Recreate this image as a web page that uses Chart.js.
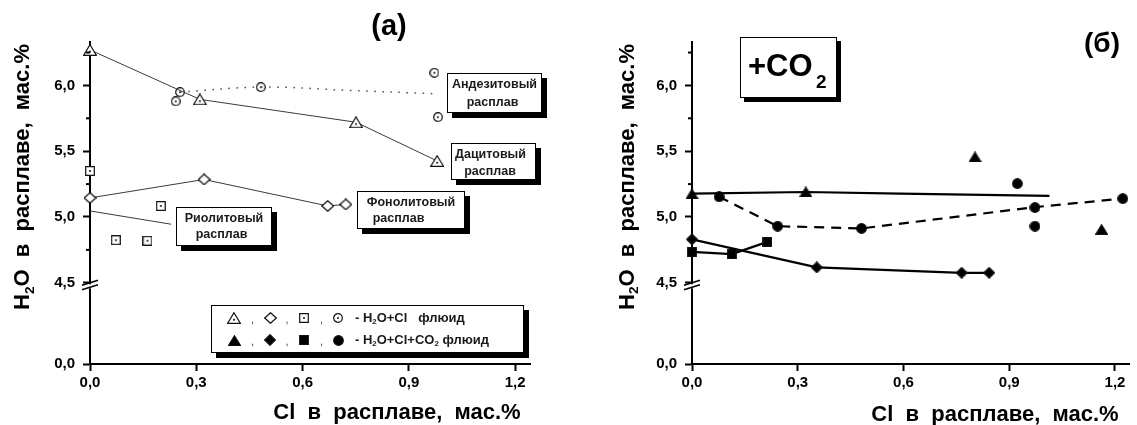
<!DOCTYPE html>
<html>
<head>
<meta charset="utf-8">
<script src="https://cdn.jsdelivr.net/npm/chart.js@4.4.1/dist/chart.umd.min.js"></script>
<style>
  html, body { margin: 0; padding: 0; background: #fff; }
  #wrap { position: relative; width: 1137px; height: 425px; overflow: hidden; }
  canvas { position: absolute; top: 0; }
  #chartA { left: 0; }
  #chartB { left: 568px; }
</style>
</head>
<body>
<div id="wrap">
  <canvas id="chartA" width="568" height="425"></canvas>
  <canvas id="chartB" width="569" height="425"></canvas>
</div>
<script>
// (a) H2O+Cl fluid
const daciteCl = [0, 0.31, 0.751, 0.98];
const daciteH2O = [6.27, 5.894, 5.72, 5.426];
const andesiteCl = [0.242, 0.254, 0.482, 0.972, 0.982];
const andesiteH2O = [5.879, 5.949, 5.987, 6.096, 5.759];
const andesiteTrendCl = [0.254, 0.482, 0.734, 0.969];
const andesiteTrendH2O = [5.949, 5.987, 5.962, 5.937];
const phonoliteCl = [0, 0.322, 0.671, 0.722];
const phonoliteH2O = [5.145, 5.285, 5.084, 5.095];
const rhyoliteCl = [0, 0.073, 0.162, 0.2];
const rhyoliteH2O = [5.35, 4.824, 4.819, 5.084];
const rhyoliteTrendCl = [0, 0.229];
const rhyoliteTrendH2O = [5.046, 4.945];

// (б) H2O+Cl+CO2 fluid
const daciteCO2Cl = [0, 0.323, 0.803, 1.162];
const daciteCO2H2O = [5.175, 5.19, 5.456, 4.905];
const daciteCO2TrendCl = [0, 0.323, 0.59, 1.014];
const daciteCO2TrendH2O = [5.178, 5.19, 5.178, 5.16];
const andesiteCO2Cl = [0.077, 0.243, 0.481, 0.923, 0.973, 0.973, 1.222];
const andesiteCO2H2O = [5.153, 4.93, 4.913, 5.254, 5.072, 4.93, 5.14];
const andesiteCO2TrendCl = [0.077, 0.243, 0.481, 0.973, 1.222];
const andesiteCO2TrendH2O = [5.153, 4.93, 4.913, 5.075, 5.14];
const phonoliteCO2Cl = [0, 0.354, 0.765, 0.843];
const phonoliteCO2H2O = [4.83, 4.617, 4.576, 4.576];
const rhyoliteCO2Cl = [0, 0.113, 0.214];
const rhyoliteCO2H2O = [4.735, 4.718, 4.811];

// ticks
const xTicks = [0, 0.3, 0.6, 0.9, 1.2];
const yUpperTicks = [4.5, 4.75, 5, 5.25, 5.5, 5.75, 6, 6.25];
const yMajorTicks = [4.5, 5, 5.5, 6];
const yLowerTicks = [0];

const FONT = '"Liberation Sans", Arial, sans-serif';
Chart.defaults.font.family = FONT;

function fmt(v) { return v.toFixed(1).replace('.', ','); }
function pts(xs, ys) { return xs.map((x, i) => ({ x, y: ys[i] })); }

function makeMarker(shape, filled, w, h, dot) {
  const c = document.createElement('canvas');
  c.width = w; c.height = h;
  const g = c.getContext('2d');
  g.lineWidth = 1.2;
  g.strokeStyle = '#111';
  g.fillStyle = filled ? '#000' : '#fff';
  g.beginPath();
  if (shape === 'tri') {
    g.moveTo(w / 2, 0.7); g.lineTo(w - 0.7, h - 0.7); g.lineTo(0.7, h - 0.7); g.closePath();
  } else if (shape === 'circle') {
    g.arc(w / 2, h / 2, w / 2 - 0.7, 0, Math.PI * 2);
  } else if (shape === 'square') {
    g.rect(0.7, 0.7, w - 1.4, h - 1.4);
  } else {
    g.moveTo(w / 2, 0.7); g.lineTo(w - 0.7, h / 2); g.lineTo(w / 2, h - 0.7); g.lineTo(0.7, h / 2); g.closePath();
  }
  g.fill(); g.stroke();
  if (dot) {
    g.fillStyle = '#111';
    g.beginPath();
    g.arc(w / 2, shape === 'tri' ? h * 0.64 : h / 2, 1, 0, Math.PI * 2);
    g.fill();
  }
  return c;
}

const mk = {
  triOpen: makeMarker('tri', false, 14, 12, true),
  diaOpen: makeMarker('diamond', false, 13, 12, false),
  sqOpen: makeMarker('square', false, 10, 10, true),
  circOpen: makeMarker('circle', false, 10, 10, true),
  triFill: makeMarker('tri', true, 13, 11, false),
  diaFill: makeMarker('diamond', true, 12, 12, false),
  sqFill: makeMarker('square', true, 10, 10, false),
  circFill: makeMarker('circle', true, 11, 11, false),
};

function makeScales(yWidth) {
  const tickFont = { family: FONT, size: 15, weight: 'bold' };
  const grid = { drawOnChartArea: false, drawTicks: true, tickLength: 7, tickWidth: 2, tickColor: '#000' };
  const border = { display: true, width: 2, color: '#000' };
  const yTicks = { font: tickFont, color: '#000', padding: 8, autoSkip: false };
  return {
    x: {
      type: 'linear', min: 0, max: 1.242, position: 'bottom', grid, border,
      ticks: { font: tickFont, color: '#000', padding: 3, autoSkip: false, maxRotation: 0, callback: (v) => fmt(v) },
      afterBuildTicks: (s) => { s.ticks = xTicks.map((v) => ({ value: v })); },
      afterFit: (s) => { s.height = 61; },
    },
    yLow: {
      type: 'linear', min: 0, max: 4.5, position: 'left', stack: 'h', stackWeight: 81.3, grid, border,
      ticks: { ...yTicks, callback: (v) => fmt(v) },
      afterBuildTicks: (s) => { s.ticks = yLowerTicks.map((v) => ({ value: v })); },
      afterFit: (s) => { s.width = yWidth; },
    },
    y: {
      type: 'linear', min: 4.5, max: 6.33, position: 'left', stack: 'h', stackWeight: 241, border,
      grid: { ...grid, tickColor: (c) => (yMajorTicks.includes(c.tick.value) ? '#000' : 'rgba(0,0,0,0)') },
      ticks: { ...yTicks, callback: (v) => (yMajorTicks.includes(v) ? fmt(v) : '') },
      afterBuildTicks: (s) => { s.ticks = yUpperTicks.map((v) => ({ value: v })); },
      afterFit: (s) => { s.width = yWidth; },
    },
  };
}

function drawRich(ctx, parts, x, y, size, align) {
  let w = 0;
  parts.forEach((p) => { ctx.font = `bold ${size * (p.k || 1)}px ${FONT}`; w += ctx.measureText(p.t).width; });
  let cx = align === 'center' ? x - w / 2 : x;
  parts.forEach((p) => {
    ctx.font = `bold ${size * (p.k || 1)}px ${FONT}`;
    ctx.fillText(p.t, cx, y + (p.dy || 0));
    cx += ctx.measureText(p.t).width;
  });
}

function shadowBox(ctx, x, y, w, h, off) {
  ctx.fillStyle = '#000';
  ctx.fillRect(x + off, y + off, w, h);
  ctx.fillStyle = '#fff';
  ctx.fillRect(x, y, w, h);
  ctx.strokeStyle = '#000';
  ctx.lineWidth = 1;
  ctx.strokeRect(x + 0.5, y + 0.5, w - 1, h - 1);
}

function drawFrameExtras(chart, ctx, titleX, titleY, yTitleX) {
  const area = chart.chartArea;
  const yUp = chart.scales.y;
  // minor ticks
  ctx.strokeStyle = '#000';
  ctx.lineWidth = 2;
  yUpperTicks.filter((v) => !yMajorTicks.includes(v)).forEach((v) => {
    const py = yUp.getPixelForValue(v);
    ctx.beginPath(); ctx.moveTo(area.left - 4, py); ctx.lineTo(area.left, py); ctx.stroke();
  });
  // axis break
  const yb = yUp.bottom;
  ctx.fillStyle = '#fff';
  ctx.fillRect(area.left - 2, yb + 1.5, 4, 4);
  ctx.lineWidth = 1.6;
  ctx.beginPath();
  ctx.moveTo(area.left - 8, yb + 2.5); ctx.lineTo(area.left + 8, yb - 2.5);
  ctx.moveTo(area.left - 8, yb + 7); ctx.lineTo(area.left + 8, yb + 2);
  ctx.stroke();
  // axis titles
  ctx.fillStyle = '#000';
  ctx.textBaseline = 'middle';
  drawRich(ctx, [{ t: 'Cl  в  расплаве,  мас.%' }], titleX, titleY, 22, 'center');
  ctx.save();
  ctx.translate(yTitleX, 177);
  ctx.rotate(-Math.PI / 2);
  drawRich(ctx, [{ t: 'H' }, { t: '2', k: 0.62, dy: 7 }, { t: 'O  в  расплаве,  мас.%' }], 0, 0, 22, 'center');
  ctx.restore();
}

const labelBoxesA = [
  { x: 447, y: 73, w: 95, h: 40, lines: [['Андезитовый', 494.5, 85], ['расплав', 492.5, 103]] },
  { x: 451, y: 143, w: 85, h: 37, lines: [['Дацитовый', 490.5, 155], ['расплав', 490, 172]] },
  { x: 357, y: 191, w: 108, h: 38, lines: [['Фонолитовый', 411, 202.5], ['расплав', 398.5, 219]] },
  { x: 176, y: 207, w: 96, h: 39, lines: [['Риолитовый', 224, 219], ['расплав', 221.5, 235]] },
];

const annotA = {
  id: 'annotA',
  afterDraw(chart) {
    const ctx = chart.ctx;
    ctx.save();
    drawFrameExtras(chart, ctx, 397, 413, 23);
    ctx.textAlign = 'center';
    ctx.fillStyle = '#000';
    ctx.font = `bold 29px ${FONT}`;
    ctx.fillText('(a)', 389, 27);
    ctx.textAlign = 'left';
    labelBoxesA.forEach((b) => {
      shadowBox(ctx, b.x, b.y, b.w, b.h, 5);
      ctx.fillStyle = '#1a1a1a';
      ctx.textAlign = 'center';
      ctx.font = `bold 12.5px ${FONT}`;
      b.lines.forEach(([t, cx, cy]) => ctx.fillText(t, cx, cy));
    });
    // legend
    shadowBox(ctx, 211, 305, 313, 48, 5);
    const symX = [234, 270, 304, 338];
    const rows = [
      { y: 318, syms: [mk.triOpen, mk.diaOpen, mk.sqOpen, mk.circOpen],
        text: [{ t: '- H' }, { t: '2', k: 0.6, dy: 4 }, { t: 'O+Cl   флюид' }] },
      { y: 340, syms: [mk.triFill, mk.diaFill, mk.sqFill, mk.circFill],
        text: [{ t: '- H' }, { t: '2', k: 0.6, dy: 4 }, { t: 'O+Cl+CO' }, { t: '2', k: 0.6, dy: 4 }, { t: ' флюид' }] },
    ];
    rows.forEach((r) => {
      r.syms.forEach((s, i) => ctx.drawImage(s, Math.round(symX[i] - s.width / 2), Math.round(r.y - s.height / 2)));
      ctx.fillStyle = '#444';
      ctx.textAlign = 'center';
      ctx.font = `11px ${FONT}`;
      [252.5, 287, 321.5].forEach((cx) => ctx.fillText(',', cx, r.y + 2));
      ctx.textAlign = 'left';
      ctx.fillStyle = '#1a1a1a';
      drawRich(ctx, r.text, 355, r.y, 13, 'left');
    });
    ctx.restore();
  },
};

const annotB = {
  id: 'annotB',
  afterDraw(chart) {
    const ctx = chart.ctx;
    ctx.save();
    drawFrameExtras(chart, ctx, 427, 415, 59.5);
    ctx.textAlign = 'center';
    ctx.fillStyle = '#000';
    ctx.font = `bold 28px ${FONT}`;
    ctx.fillText('(б)', 534, 44);
    shadowBox(ctx, 172, 37, 97, 61, 4);
    ctx.fillStyle = '#000';
    ctx.textAlign = 'left';
    ctx.textBaseline = 'alphabetic';
    ctx.font = `bold 31px ${FONT}`;
    ctx.fillText('+CO', 180, 76);
    ctx.font = `bold 19px ${FONT}`;
    ctx.fillText('2', 248, 88);
    ctx.restore();
  },
};

const common = { yAxisID: 'y', clip: false, pointRadius: 5, pointHoverRadius: 5, borderColor: '#000', backgroundColor: '#000' };
const lineA = { showLine: true, borderColor: '#3a3a3a', borderWidth: 1 };

const dsA = [
  { ...common, ...lineA, data: pts(rhyoliteTrendCl, rhyoliteTrendH2O), pointRadius: 0 },
  { ...common, ...lineA, data: pts(andesiteTrendCl, andesiteTrendH2O), pointRadius: 0, borderDash: [1.6, 6.5], borderWidth: 1.5, borderColor: '#555', tension: 0.4 },
  { ...common, ...lineA, data: pts(daciteCl, daciteH2O), pointStyle: mk.triOpen },
  { ...common, ...lineA, data: pts(phonoliteCl, phonoliteH2O), pointStyle: mk.diaOpen },
  { ...common, data: pts(rhyoliteCl, rhyoliteH2O), pointStyle: mk.sqOpen },
  { ...common, data: pts(andesiteCl, andesiteH2O), pointStyle: mk.circOpen },
];

const lineB = { showLine: true, borderColor: '#000', borderWidth: 2.2 };
const dsB = [
  { ...common, ...lineB, data: pts(daciteCO2TrendCl, daciteCO2TrendH2O), pointRadius: 0 },
  { ...common, ...lineB, data: pts(andesiteCO2TrendCl, andesiteCO2TrendH2O), pointRadius: 0, borderDash: [10, 7] },
  { ...common, ...lineB, data: pts(phonoliteCO2Cl, phonoliteCO2H2O), pointStyle: mk.diaFill },
  { ...common, ...lineB, data: pts(rhyoliteCO2Cl, rhyoliteCO2H2O), pointStyle: mk.sqFill },
  { ...common, data: pts(daciteCO2Cl, daciteCO2H2O), pointStyle: mk.triFill },
  { ...common, data: pts(andesiteCO2Cl, andesiteCO2H2O), pointStyle: mk.circFill },
];

function baseOptions(yWidth, padRight) {
  return {
    responsive: false,
    animation: false,
    events: [],
    layout: { padding: { top: 42, right: padRight, bottom: 0, left: 0 } },
    plugins: { legend: { display: false }, tooltip: { enabled: false } },
    scales: makeScales(yWidth),
  };
}

new Chart(document.getElementById('chartA'), {
  type: 'scatter',
  data: { datasets: dsA },
  options: baseOptions(90, 38),
  plugins: [annotA],
});

new Chart(document.getElementById('chartB'), {
  type: 'scatter',
  data: { datasets: dsB },
  options: baseOptions(124, 7),
  plugins: [annotB],
});
</script>
</body>
</html>
